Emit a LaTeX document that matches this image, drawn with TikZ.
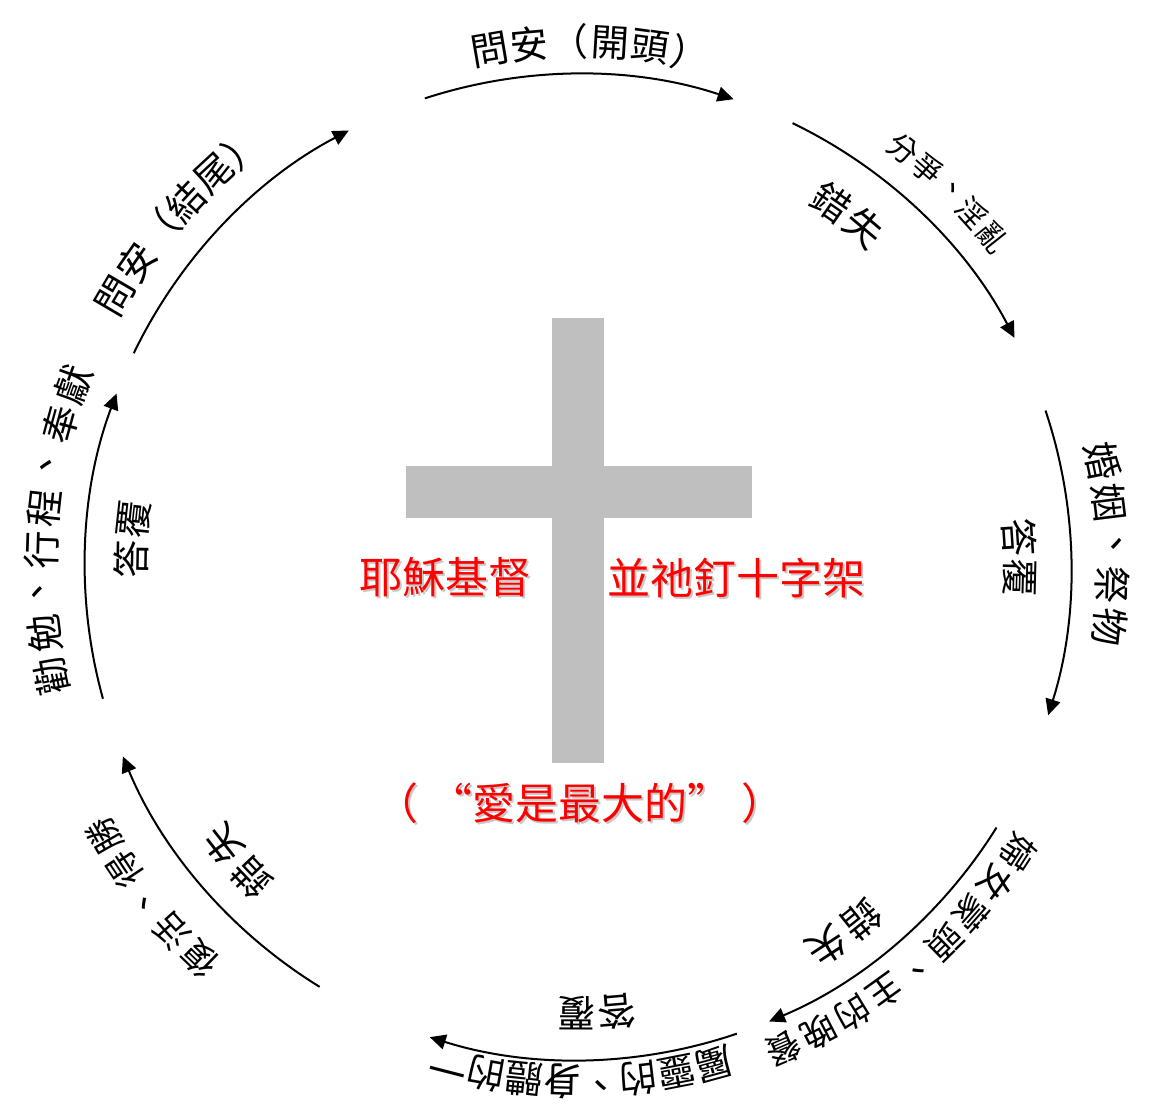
\documentclass[tikz,border=0pt]{standalone}
\usepackage{fontspec}
\setmainfont{Noto Sans CJK TC}
\usetikzlibrary{calc,arrows.meta}
\definecolor{crossgray}{HTML}{BFBFBF}
\definecolor{textred}{HTML}{FF0000}
\definecolor{shadowgray}{HTML}{C8C8C8}
\tikzset{
  cyc/.style={line width=1pt,-{Triangle[length=8pt,width=7.5pt]}},
  bigch/.style={inner sep=0pt,font=\fontsize{19pt}{19pt}\selectfont},
  midch/.style={inner sep=0pt,font=\fontsize{17.5pt}{17.5pt}\selectfont},
  smallch/.style={inner sep=0pt,font=\fontsize{15pt}{15pt}\selectfont},
  redtxt/.style={inner sep=0pt,text=textred,font=\fontsize{21.5pt}{21.5pt}\selectfont},
  shadowtxt/.style={inner sep=0pt,text=shadowgray,font=\fontsize{21.5pt}{21.5pt}\selectfont}
}
% #1 name, #2 centre angle, #3 radius, #4 step (deg), #5 count, #6 style, #7 characters
\newcommand{\arclabel}[7]{%
  \foreach \ch [count=\i] in {#7} {%
    \pgfmathsetmacro{\ang}{#2-(\i-(#5+1)/2)*#4}%
    \node[#6, rotate=\ang-90] (#1-\i) at ($(c)+(\ang:#3)$) {\ch};
  }%
}
\newcommand{\lovetext}{（\makebox[1.25em][r]{“}愛是最大的\makebox[1.25em][l]{”}）}
\begin{document}
\begin{tikzpicture}[x=0.5pt,y=0.5pt]
\useasboundingbox (0,0) rectangle (1153,1117);
\coordinate (c) at (578,550);

% cross
\fill[crossgray] (552,354) rectangle (604,799);
\fill[crossgray] (406,599) rectangle (752,651);

% cycle arcs
\coordinate (s1) at ($(c)+(108.1:493)$);
\coordinate (s2) at ($(c)+(64.2:493)$);
\coordinate (s3) at ($(c)+(18.5:493)$);
\coordinate (s4) at ($(c)+(-31.9:493)$);
\coordinate (s5) at ($(c)+(-71.2:493)$);
\coordinate (s6) at ($(c)+(-121.6:493)$);
\coordinate (s7) at ($(c)+(195.5:493)$);
\coordinate (s8) at ($(c)+(154.3:493)$);
\draw[cyc] (s1) arc[start angle=108.1,end angle=71.6,radius=246.5pt];
\draw[cyc] (s2) arc[start angle=64.2,end angle=27.7,radius=246.5pt];
\draw[cyc] (s3) arc[start angle=18.5,end angle=-17.5,radius=246.5pt];
\draw[cyc] (s4) arc[start angle=-31.9,end angle=-67.2,radius=246.5pt];
\draw[cyc] (s5) arc[start angle=-71.2,end angle=-107.5,radius=246.5pt];
\draw[cyc] (s6) arc[start angle=-121.6,end angle=-157.4,radius=246.5pt];
\draw[cyc] (s7) arc[start angle=195.5,end angle=159.4,radius=246.5pt];
\draw[cyc] (s8) arc[start angle=154.3,end angle=117.7,radius=246.5pt];

% labels along the circle
\arclabel{ta}{88.7}{525}{4.4}{6}{bigch}{問,安,（,開,頭,）}
\arclabel{tr}{45.3}{530}{3.4}{5}{smallch}{分,爭,、,淫,亂}
\arclabel{tri}{52.5}{444}{5.3}{2}{bigch}{錯,失}
\arclabel{ro}{2.5}{535}{4.45}{5}{bigch}{婚,姻,、,祭,物}
\arclabel{ri}{1.2}{442}{5.2}{2}{bigch}{答,覆}
\arclabel{bro}{-49.9}{524}{4.24}{9}{midch}{婦,女,蒙,頭,、,主,的,晚,餐}
\arclabel{bri}{-54}{453}{5.5}{2}{bigch}{錯,失}
\arclabel{bo}{-89.6}{515}{4.25}{8}{bigch}{屬,靈,的,、,身,體,的,一}
\arclabel{bi}{-87.6}{446}{5.1}{2}{bigch}{答,覆}
\arclabel{blo}{-142.2}{545}{4.1}{5}{midch}{復,活,、,得,勝}
\arclabel{bli}{-139.2}{450}{5.6}{2}{bigch}{錯,失}
\arclabel{lo}{175.9}{537}{4.5}{8}{bigch}{勸,勉,、,行,程,、,奉,獻}
\arclabel{li}{176.4}{447}{5.2}{2}{bigch}{答,覆}
\arclabel{tl}{139.1}{536}{4.2}{6}{bigch}{問,安,（,結,尾,）}

% red centre texts
\node[shadowtxt] (jesus-sh) at (447,538) {耶穌基督};
\node[redtxt] (jesus) at (445,540) {耶穌基督};
\node[shadowtxt] (cross-sh) at (738,537) {並祂釘十字架};
\node[redtxt] (crosstxt) at (736,539) {並祂釘十字架};
\node[shadowtxt] (love-sh) at (582,312) {\lovetext};
\node[redtxt] (love) at (580,314) {\lovetext};
\end{tikzpicture}
\end{document}
